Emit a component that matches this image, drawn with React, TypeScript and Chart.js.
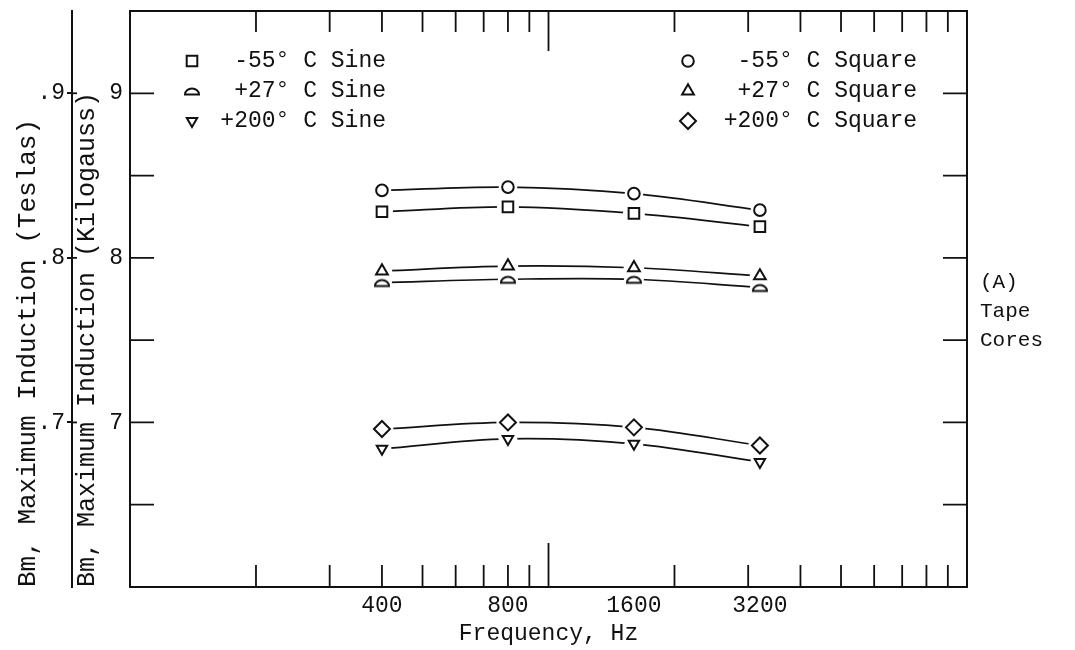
import React, { useEffect, useRef } from 'react';
import { Chart, registerables } from 'chart.js';
import { drawPoint } from 'chart.js/helpers';

Chart.register(...registerables);

// ---- data ----
const frequencies = [400, 800, 1600, 3200];
const freqTickLabels = [400, 800, 1600, 3200];
const freqMinorTickMarks = [200, 300, 400, 500, 600, 700, 800, 900, 2000, 3000, 4000, 5000, 6000, 7000, 8000, 9000];
const freqMajorTickMarks = [1000];
const kgTickMarks = [6.5, 7, 7.5, 8, 8.5, 9];
const kgTickLabels = [7, 8, 9];
const teslaTickLabels = [0.7, 0.8, 0.9];

const sineMinus55 = [8.28, 8.31, 8.27, 8.19];
const sinePlus27 = [7.85, 7.87, 7.87, 7.82];
const sinePlus200 = [6.84, 6.9, 6.87, 6.76];
const squareMinus55 = [8.41, 8.43, 8.39, 8.29];
const squarePlus27 = [7.92, 7.95, 7.94, 7.89];
const squarePlus200 = [6.96, 7.0, 6.97, 6.86];

const seriesLabels = [
  '-55° C Sine',
  '+27° C Sine',
  '+200° C Sine',
  '-55° C Square',
  '+27° C Square',
  '+200° C Square',
];
const sideNote = ['(A)', 'Tape', 'Cores'];

const FONT = "'Liberation Mono', 'DejaVu Sans Mono', monospace";
const INK = '#111';
const TEXT = '#111';

function makeDome(): HTMLCanvasElement {
  const c = document.createElement('canvas');
  c.width = 18;
  c.height = 12;
  const g = c.getContext('2d')!;
  g.lineWidth = 2;
  g.strokeStyle = INK;
  g.fillStyle = '#fff';
  g.beginPath();
  g.moveTo(2, 9.5);
  g.lineTo(16, 9.5);
  g.ellipse(9, 9.5, 7, 6, 0, 0, Math.PI, true);
  g.closePath();
  g.fill();
  g.stroke();
  return c;
}

const framePlugin = {
  id: 'frame',
  beforeDatasetsDraw(chart: any) {
    const { ctx, chartArea, scales } = chart;
    const { left, right, top, bottom } = chartArea;
    const x = scales.x;
    const y = scales.y;
    const y2 = scales.y2;
    ctx.save();
    ctx.strokeStyle = INK;
    ctx.lineWidth = 2;
    ctx.beginPath();
    ctx.moveTo(left, top);
    ctx.lineTo(right, top);
    ctx.lineTo(right, bottom);
    ctx.stroke();
    ctx.lineWidth = 1.8;
    const drawX = (v: number, lenB: number, lenT: number) => {
      const px = x.getPixelForValue(v);
      ctx.beginPath();
      ctx.moveTo(px, bottom);
      ctx.lineTo(px, bottom - lenB);
      ctx.moveTo(px, top);
      ctx.lineTo(px, top + lenT);
      ctx.stroke();
    };
    freqMinorTickMarks.forEach((v) => drawX(v, 22, 21));
    freqMajorTickMarks.forEach((v) => drawX(v, 44, 40));
    kgTickMarks.forEach((v) => {
      const py = y.getPixelForValue(v);
      ctx.beginPath();
      ctx.moveTo(left, py);
      ctx.lineTo(left + 24, py);
      ctx.moveTo(right, py);
      ctx.lineTo(right - 24, py);
      ctx.stroke();
    });
    // teslas ticks cross their axis line
    teslaTickLabels.forEach((v) => {
      const py = y2.getPixelForValue(v);
      ctx.beginPath();
      ctx.moveTo(y2.right, py);
      ctx.lineTo(y2.right + 5, py);
      ctx.stroke();
    });
    ctx.restore();
  },
  afterDatasetsDraw(chart: any) {
    const { ctx } = chart;
    const metas = chart.getSortedVisibleDatasetMetas();
    ctx.save();
    ctx.fillStyle = '#fff';
    metas.forEach((m: any) =>
      m.data.forEach((pt: any) => {
        ctx.beginPath();
        ctx.arc(pt.x, pt.y, pt.options.radius + 3.5, 0, Math.PI * 2);
        ctx.fill();
      })
    );
    ctx.restore();
    metas.forEach((m: any) => m.data.forEach((pt: any) => pt.draw(ctx, chart.chartArea)));
  },
  afterDraw(chart: any) {
    const { ctx, chartArea } = chart;
    const ds = chart.data.datasets;
    ctx.save();
    const cols = [
      { markerX: 192, textRight: 386, idx: [0, 1, 2] },
      { markerX: 688, textRight: 917, idx: [3, 4, 5] },
    ];
    const rows = [61, 91, 121];
    ctx.font = `23px ${FONT}`;
    ctx.textAlign = 'right';
    ctx.textBaseline = 'middle';
    cols.forEach((col) => {
      col.idx.forEach((di, r) => {
        const d = ds[di];
        ctx.fillStyle = '#fff';
        ctx.strokeStyle = INK;
        ctx.lineWidth = 2;
        drawPoint(
          ctx,
          {
            pointStyle: d.pointStyle,
            radius: d.pointRadius,
            rotation: d.pointRotation || 0,
            borderWidth: 2,
          } as any,
          col.markerX,
          rows[r]
        );
        ctx.fillStyle = TEXT;
        ctx.fillText(d.label, col.textRight, rows[r]);
      });
    });
    ctx.font = `21px ${FONT}`;
    ctx.textAlign = 'left';
    ctx.fillStyle = TEXT;
    sideNote.forEach((t, i) => ctx.fillText(t, chartArea.right + 13, 282 + i * 29));
    ctx.restore();
  },
};

export default function App() {
  const ref = useRef<HTMLCanvasElement>(null);
  useEffect(() => {
    const canvas = ref.current;
    if (!canvas) return;
    const dome = makeDome();
    const mk = (label: string, data: number[], style: any, extra: any = {}) => ({
      label,
      data: frequencies.map((f, i) => ({ x: f, y: data[i] })),
      pointStyle: style,
      borderColor: INK,
      backgroundColor: '#fff',
      pointBackgroundColor: '#fff',
      pointBorderColor: INK,
      pointBorderWidth: 2,
      pointRadius: 6,
      borderWidth: 1.7,
      tension: 0.35,
      xAxisID: 'x',
      yAxisID: 'y',
      ...extra,
    });
    const datasets = [
      mk(seriesLabels[0], sineMinus55, 'rect', { pointRadius: 7.5 }),
      mk(seriesLabels[1], sinePlus27, dome, { pointRadius: 6.5 }),
      mk(seriesLabels[2], sinePlus200, 'triangle', { pointRotation: 180, pointRadius: 6 }),
      mk(seriesLabels[3], squareMinus55, 'circle', { pointRadius: 5.8 }),
      mk(seriesLabels[4], squarePlus27, 'triangle', { pointRadius: 6.8 }),
      mk(seriesLabels[5], squarePlus200, 'rectRot', { pointRadius: 8 }),
    ];
    const tickFont = { family: FONT, size: 23 };
    const chart = new Chart(canvas, {
      type: 'line',
      data: { datasets },
      options: {
        responsive: false,
        animation: false,
        layout: { padding: { left: 0, right: 108, top: 11, bottom: 0 } },
        plugins: { legend: { display: false }, tooltip: { enabled: false } },
        scales: {
          x: {
            type: 'logarithmic',
            position: 'bottom',
            min: 100,
            max: 10000,
            afterBuildTicks: (s: any) => {
              s.ticks = freqTickLabels.map((v) => ({ value: v }));
            },
            afterFit: (s: any) => {
              s.height = 63;
              s.paddingLeft = 0;
              s.paddingRight = 0;
            },
            grid: { display: false, drawTicks: false },
            border: { display: true, color: INK, width: 2 },
            ticks: {
              autoSkip: false,
              maxRotation: 0,
              color: TEXT,
              font: tickFont,
              padding: 5,
              callback: (v: any) => String(v),
            },
            title: {
              display: true,
              text: 'Frequency, Hz',
              color: TEXT,
              font: tickFont,
              padding: { top: 0, bottom: 2 },
            },
          },
          y: {
            type: 'linear',
            position: 'left',
            weight: 0,
            min: 6,
            max: 9.5,
            afterBuildTicks: (s: any) => {
              s.ticks = kgTickLabels.map((v) => ({ value: v }));
            },
            afterFit: (s: any) => {
              s.width = 58;
              s.paddingTop = 0;
              s.paddingBottom = 0;
            },
            grid: { display: false, drawTicks: false },
            border: { display: true, color: INK, width: 2 },
            ticks: { color: TEXT, font: tickFont, padding: 7, callback: (v: any) => String(v) },
            title: {
              display: true,
              text: 'Bm, Maximum Induction (Kilogauss)',
              align: 'start',
              color: TEXT,
              font: { family: FONT, size: 25 },
              padding: { top: 0, bottom: 0 },
            },
          },
          y2: {
            type: 'linear',
            position: 'left',
            weight: 1,
            min: 0.6,
            max: 0.95,
            afterBuildTicks: (s: any) => {
              s.ticks = teslaTickLabels.map((v) => ({ value: v }));
            },
            afterFit: (s: any) => {
              s.width = 72;
              s.paddingTop = 0;
              s.paddingBottom = 0;
            },
            grid: { display: true, drawOnChartArea: false, drawTicks: true, tickLength: 5, color: INK, lineWidth: 2 },
            border: { display: true, color: INK, width: 2 },
            ticks: {
              color: TEXT,
              font: tickFont,
              padding: 2,
              callback: (v: any) => '.' + Math.round(v * 10),
            },
            title: {
              display: true,
              text: 'Bm, Maximum Induction (Teslas)',
              align: 'start',
              color: TEXT,
              font: { family: FONT, size: 26 },
              padding: { top: 13, bottom: 0 },
            },
          },
        },
      } as any,
      plugins: [framePlugin],
    });
    return () => chart.destroy();
  }, []);
  return (
    <div style={{ position: 'absolute', left: 0, top: 0, width: 1075, height: 650 }}>
      <canvas ref={ref} width={1075} height={650} />
    </div>
  );
}
